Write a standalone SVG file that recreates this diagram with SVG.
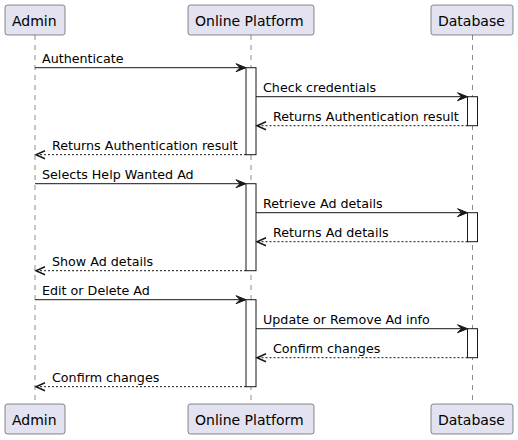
<svg xmlns="http://www.w3.org/2000/svg" width="518" height="440" viewBox="0 0 518 440">
<style>
.box{fill:#E2E2F0;stroke:#181818;stroke-width:0.5}
.pt{font-family:"DejaVu Sans",sans-serif;font-size:14px;fill:#000}
.life{stroke:#181818;stroke-width:0.5;stroke-dasharray:5,5}
.act{fill:#FFFFFF;stroke:#181818;stroke-width:1}
.msg{stroke:#181818;stroke-width:1;fill:none}
.ret{stroke:#181818;stroke-width:1;fill:none;stroke-dasharray:2,2}
.rh{stroke:#181818;stroke-width:1.5;fill:none}
.lbl{font-family:"DejaVu Sans",sans-serif;font-size:12.7px;fill:#000}
.ah{fill:#181818;stroke:#181818;stroke-width:1}
</style>
<g id="lifelines">
<line class="life" x1="35" y1="35" x2="35" y2="404"/>
<line class="life" x1="251" y1="35" x2="251" y2="404"/>
<line class="life" x1="472.5" y1="35" x2="472.5" y2="404"/>
</g>
<g id="admin">
<rect class="box" x="5" y="5" width="60" height="30" rx="2.5"/>
<text class="pt" x="12" y="25.5">Admin</text>
<rect class="box" x="5" y="404" width="60" height="30" rx="2.5"/>
<text class="pt" x="12" y="424.5">Admin</text>
</g>
<g id="platform">
<rect class="box" x="188" y="5" width="126" height="30" rx="2.5"/>
<text class="pt" x="195" y="25.5">Online Platform</text>
<rect class="box" x="188" y="404" width="126" height="30" rx="2.5"/>
<text class="pt" x="195" y="424.5">Online Platform</text>
<rect class="act" x="246" y="67.7" width="10" height="87"/>
<rect class="act" x="246" y="183.7" width="10" height="87"/>
<rect class="act" x="246" y="299.7" width="10" height="87"/>
</g>
<g id="database">
<rect class="box" x="431" y="5" width="82" height="30" rx="2.5"/>
<text class="pt" x="438" y="25.5">Database</text>
<rect class="box" x="431" y="404" width="82" height="30" rx="2.5"/>
<text class="pt" x="438" y="424.5">Database</text>
<rect class="act" x="467.5" y="96.7" width="10" height="29"/>
<rect class="act" x="467.5" y="212.7" width="10" height="29"/>
<rect class="act" x="467.5" y="328.7" width="10" height="29"/>
</g>
<g id="connectors">
<line class="msg" x1="35" y1="67.7" x2="245" y2="67.7"/>
<polygon class="ah" points="236,63.7 246,67.7 236,71.7 240,67.7"/>
<text class="lbl" x="42" y="62.5">Authenticate</text>
<line class="msg" x1="256" y1="96.7" x2="466.5" y2="96.7"/>
<polygon class="ah" points="457.5,92.7 467.5,96.7 457.5,100.7 461.5,96.7"/>
<text class="lbl" x="263" y="91.5">Check credentials</text>
<line class="ret" x1="467.5" y1="125.7" x2="258" y2="125.7"/>
<polyline class="rh" points="266,121.7 257,125.7 266,129.7"/>
<text class="lbl" x="273" y="120.5">Returns Authentication result</text>
<line class="ret" x1="246" y1="154.7" x2="37" y2="154.7"/>
<polyline class="rh" points="45,150.7 36,154.7 45,158.7"/>
<text class="lbl" x="52" y="149.5">Returns Authentication result</text>
<line class="msg" x1="35" y1="183.7" x2="245" y2="183.7"/>
<polygon class="ah" points="236,179.7 246,183.7 236,187.7 240,183.7"/>
<text class="lbl" x="42" y="178.5">Selects Help Wanted Ad</text>
<line class="msg" x1="256" y1="212.7" x2="466.5" y2="212.7"/>
<polygon class="ah" points="457.5,208.7 467.5,212.7 457.5,216.7 461.5,212.7"/>
<text class="lbl" x="263" y="207.5">Retrieve Ad details</text>
<line class="ret" x1="467.5" y1="241.7" x2="258" y2="241.7"/>
<polyline class="rh" points="266,237.7 257,241.7 266,245.7"/>
<text class="lbl" x="273" y="236.5">Returns Ad details</text>
<line class="ret" x1="246" y1="270.7" x2="37" y2="270.7"/>
<polyline class="rh" points="45,266.7 36,270.7 45,274.7"/>
<text class="lbl" x="52" y="265.5">Show Ad details</text>
<line class="msg" x1="35" y1="299.7" x2="245" y2="299.7"/>
<polygon class="ah" points="236,295.7 246,299.7 236,303.7 240,299.7"/>
<text class="lbl" x="42" y="294.5">Edit or Delete Ad</text>
<line class="msg" x1="256" y1="328.7" x2="466.5" y2="328.7"/>
<polygon class="ah" points="457.5,324.7 467.5,328.7 457.5,332.7 461.5,328.7"/>
<text class="lbl" x="263" y="323.5">Update or Remove Ad info</text>
<line class="ret" x1="467.5" y1="357.7" x2="258" y2="357.7"/>
<polyline class="rh" points="266,353.7 257,357.7 266,361.7"/>
<text class="lbl" x="273" y="352.5">Confirm changes</text>
<line class="ret" x1="246" y1="386.7" x2="37" y2="386.7"/>
<polyline class="rh" points="45,382.7 36,386.7 45,390.7"/>
<text class="lbl" x="52" y="381.5">Confirm changes</text>
</g>
</svg>
